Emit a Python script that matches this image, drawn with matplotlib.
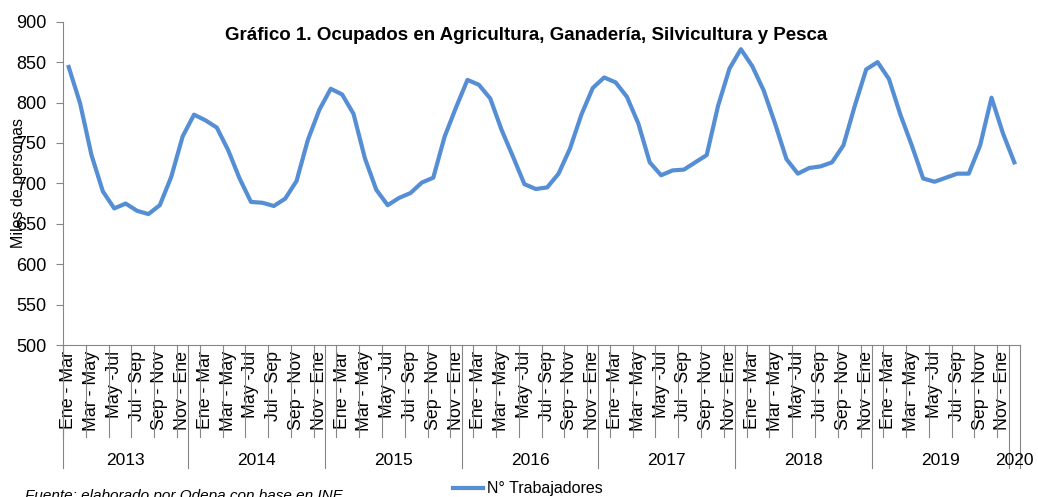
import matplotlib
matplotlib.use("Agg")
import matplotlib.pyplot as plt
import matplotlib.transforms as mtransforms
from matplotlib.lines import Line2D
import numpy as np

plt.rcParams['font.family'] = ['Liberation Sans', 'DejaVu Sans']

# --- data (miles de personas, trimestres móviles) ---
years = ["2013", "2014", "2015", "2016", "2017", "2018", "2019", "2020"]
n_per_year = [11, 12, 12, 12, 12, 12, 12, 1]
tick_names = ["Ene - Mar", "Mar - May", "May -Jul", "Jul - Sep", "Sep - Nov", "Nov - Ene"]
ocupados = [
    844, 799, 735, 690, 669, 675, 666, 662, 673, 708, 758,
    785, 778, 769, 741, 706, 677, 676, 672, 681, 703, 754, 791,
    817, 810, 786, 731, 692, 673, 682, 688, 701, 707, 758, 794,
    828, 822, 805, 766, 733, 699, 693, 695, 712, 743, 785, 818,
    831, 825, 807, 774, 726, 710, 716, 717, 726, 735, 796, 842,
    866, 845, 815, 774, 730, 712, 719, 721, 726, 747, 796, 841,
    850, 829, 785, 747, 706, 702, 707, 712, 712, 747, 806, 762,
    726,
]

W, H = 1038, 497
fig = plt.figure(figsize=(W / 100, H / 100), dpi=100)
ax = fig.add_axes([63 / W, 1 - 345 / H, (1020 - 63) / W, (345 - 21.7) / H])

x = np.arange(len(ocupados))
ax.plot(x, ocupados, color="#558ED5", lw=3, solid_joinstyle="round")

ax.set_xlim(-0.5, len(ocupados) - 0.5)
ax.set_ylim(500, 900)
ax.set_yticks(np.arange(500, 901, 50))

grey = "#868686"
for s in ["top", "right"]:
    ax.spines[s].set_visible(False)
ax.spines["left"].set_color(grey)
ax.spines["bottom"].set_color(grey)
ax.tick_params(axis="y", colors=grey, labelcolor="black", labelsize=13, length=5, width=0.8, pad=7)

# category labels every second trimester
pos = np.arange(0, len(ocupados) - 1, 2)
ax.set_xticks(pos)
ax.set_xticklabels([tick_names[(p // 2) % 6] for p in pos], rotation=90, fontsize=12.8)
ax.tick_params(axis="x", length=0, pad=4)

# separators in the category area
trans = mtransforms.blended_transform_factory(ax.transData, ax.transAxes)
for p in pos:
    ax.plot([p - 0.5, p - 0.5], [0, -0.285], color=grey, lw=0.8, transform=trans, clip_on=False)

edges = np.concatenate([[0], np.cumsum(n_per_year)]) - 0.5
for e in edges:
    ax.plot([e, e], [0, -0.38], color=grey, lw=0.8, transform=trans, clip_on=False)
for yr, a, b in zip(years, edges[:-1], edges[1:]):
    ax.text((a + b) / 2, -0.356, yr, transform=trans, ha="center", va="center", fontsize=12.5)

fig.text(19 / W, 1 - 183 / H, "Miles de personas", rotation=90, ha="center", va="center", fontsize=11.5)
fig.text(526 / W, 1 - 36 / H, "Gráfico 1. Ocupados en Agricultura, Ganadería, Silvicultura y Pesca",
         ha="center", va="center", fontsize=13.5, fontweight="bold")
fig.text(25 / W, -3 / H, "Fuente: elaborado por Odepa con base en INE.", ha="left", va="baseline",
         fontsize=11, style="italic")

handle = Line2D([], [], color="#558ED5", lw=3)
fig.legend([handle], ["N° Trabajadores"], loc="center", bbox_to_anchor=(528 / W, 1 - 489 / H),
           frameon=False, fontsize=11.5, handlelength=1.9, handletextpad=0.25,
           borderpad=0, borderaxespad=0)

fig.savefig("out.png", dpi=100)
